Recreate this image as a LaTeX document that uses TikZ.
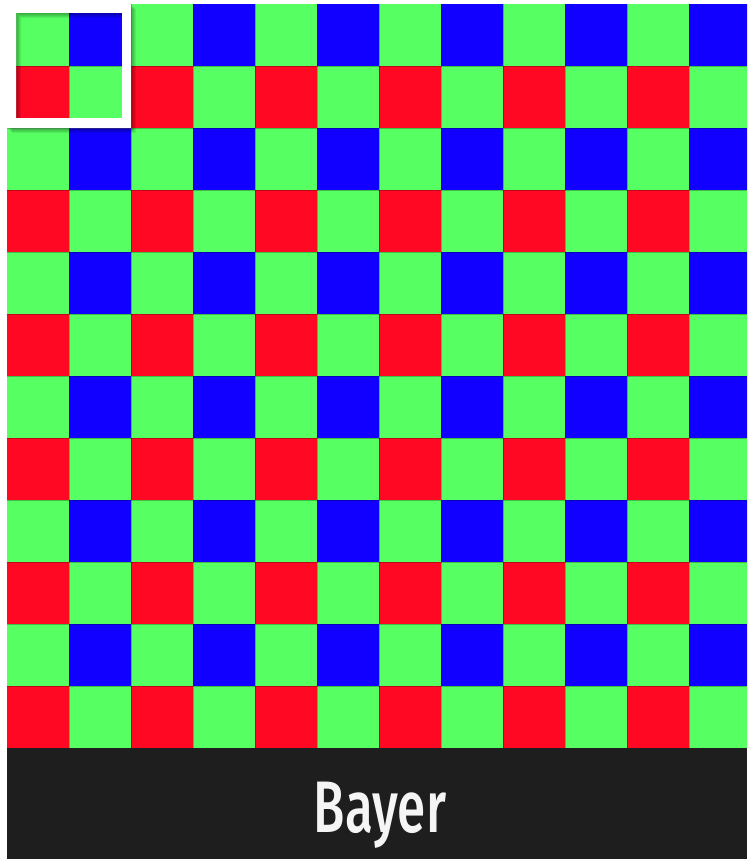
\documentclass[tikz,border=0pt]{standalone}
\usepackage{fontspec}
\newfontfamily\labelfont{Fira Sans Medium}
\definecolor{gg}{RGB}{86,255,98}
\definecolor{bb}{RGB}{17,0,255}
\definecolor{rr}{RGB}{255,8,36}
\definecolor{band}{RGB}{30,30,30}
\tikzset{
  gridline/.style={draw=black, opacity=0.25, line width=0.8pt},
  framering/.style={fill=white, even odd rule},
  shadowring/.style={fill=black, opacity=0.07, even odd rule},
  labeltext/.style={text=white!96!black, anchor=base, inner sep=0pt}
}
\begin{document}
\begin{tikzpicture}[x=1pt,y=-1pt]
\useasboundingbox (0,0) rectangle (747,859);
\fill[white] (0,0) rectangle (747,859);
\begin{scope}
  \clip (7,4) rectangle (747,748);
  \foreach \r in {0,...,11} {
    \foreach \c in {0,...,11} {
      \pgfmathtruncatemacro\ev{mod(\r,2)}
      \pgfmathtruncatemacro\ec{mod(\c,2)}
      \ifnum\ev=0
        \ifnum\ec=0 \def\cc{gg}\else\def\cc{bb}\fi
      \else
        \ifnum\ec=0 \def\cc{rr}\else\def\cc{gg}\fi
      \fi
      \fill[\cc] (7+62*\c, 4+62*\r) rectangle +(62,62);
    }
  }
  \foreach \k in {1,...,11} {
    \draw[gridline] (7+62*\k, 4) -- (7+62*\k, 748);
    \draw[gridline] (7, 4+62*\k) -- (747, 4+62*\k);
  }
\end{scope}
% shadow of the highlight frame
\foreach \i in {1,...,5} {
  \fill[shadowring] (7+\i,4+\i) rectangle (131+\i,128+\i) (16+\i,13+\i) rectangle (122+\i,118+\i);
}
% highlight frame
\fill[framering] (7,4) rectangle (131,128) (16,13) rectangle (122,118);
% bottom band
\fill[band] (7,748) rectangle (747,859);
\node[labeltext] (lbl) at (380,832) {\scalebox{0.70}[1]{\labelfont\fontsize{73}{73}\selectfont Bayer}};
\end{tikzpicture}
\end{document}
